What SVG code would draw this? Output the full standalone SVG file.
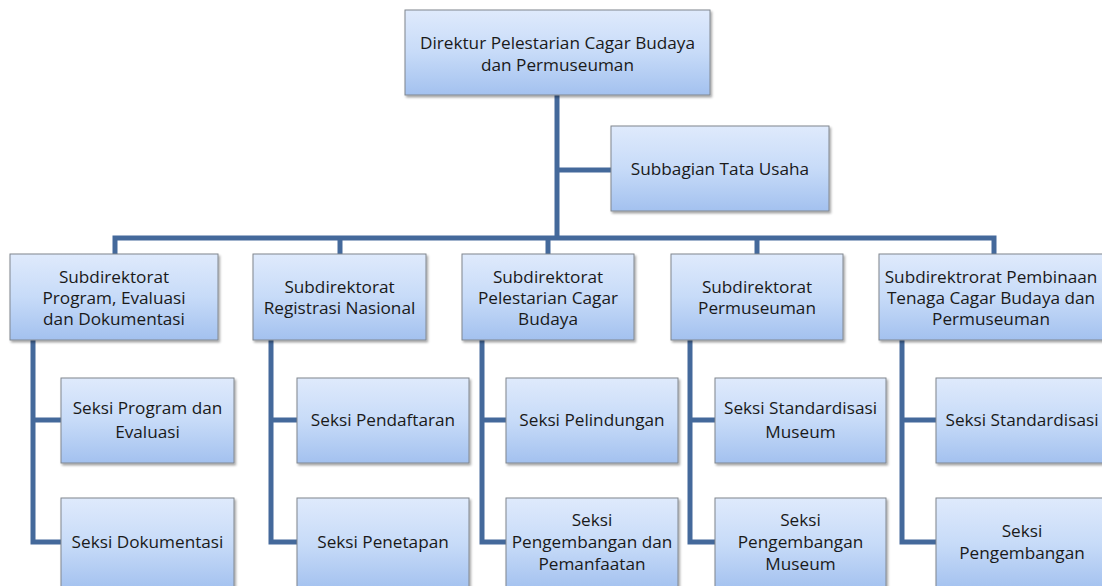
<svg xmlns="http://www.w3.org/2000/svg" width="1102" height="586" viewBox="0 0 1102 586">
<defs>
<linearGradient id="g" x1="0" y1="0" x2="0" y2="1">
<stop offset="0" stop-color="#dfeafc"/>
<stop offset="0.5" stop-color="#c7dbf8"/>
<stop offset="1" stop-color="#a3c1ef"/>
</linearGradient>
<filter id="sh" x="-10%" y="-10%" width="130%" height="140%">
<feDropShadow dx="1.5" dy="2" stdDeviation="1.2" flood-color="#000" flood-opacity="0.35"/>
</filter>
</defs>
<style>
.box{fill:url(#g);stroke:#80868e;stroke-width:1;filter:url(#sh)}
.t{font-family:"Open Sans","Noto Sans",sans-serif;font-size:17.2px;fill:#1a1a1a;text-anchor:middle}
.c{fill:none;stroke:#44699b;stroke-width:5;stroke-linejoin:miter;stroke-linecap:butt}
</style>
<rect width="1102" height="586" fill="#fff"/>
<g id="connectors">
<path class="c" d="M557,95 V238"/>
<path class="c" d="M557,170 H611"/>
<path class="c" d="M115,255 V238 H994 V255"/>
<path class="c" d="M340,238 V255"/>
<path class="c" d="M548,238 V255"/>
<path class="c" d="M757,238 V255"/>
<path class="c" d="M33,340 V542 H61 M33,420 H61"/>
<path class="c" d="M271,340 V542 H297 M271,420 H297"/>
<path class="c" d="M482,340 V542 H506 M482,420 H506"/>
<path class="c" d="M690,340 V542 H715 M690,420 H715"/>
<path class="c" d="M902,340 V542 H936 M902,420 H936"/>
</g>
<g id="direktur"><rect class="box" x="405" y="10" width="305" height="85"/>
<text class="t" x="557.5" y="49">Direktur Pelestarian Cagar Budaya</text>
<text class="t" x="557.5" y="71">dan Permuseuman</text></g>
<g id="subbagian"><rect class="box" x="611" y="126" width="218" height="85"/>
<text class="t" x="720" y="175">Subbagian Tata Usaha</text></g>
<g id="subdit1"><rect class="box" x="10" y="254" width="208" height="86"/>
<text class="t" x="114" y="283">Subdirektorat</text>
<text class="t" x="114" y="304">Program, Evaluasi</text>
<text class="t" x="114" y="325">dan Dokumentasi</text></g>
<g id="subdit2"><rect class="box" x="253" y="254" width="173" height="86"/>
<text class="t" x="339.5" y="293">Subdirektorat</text>
<text class="t" x="339.5" y="314">Registrasi Nasional</text></g>
<g id="subdit3"><rect class="box" x="462" y="254" width="172" height="86"/>
<text class="t" x="548" y="283">Subdirektorat</text>
<text class="t" x="548" y="304">Pelestarian Cagar</text>
<text class="t" x="548" y="325">Budaya</text></g>
<g id="subdit4"><rect class="box" x="671" y="254" width="172" height="86"/>
<text class="t" x="757" y="293">Subdirektorat</text>
<text class="t" x="757" y="314">Permuseuman</text></g>
<g id="subdit5"><rect class="box" x="879" y="254" width="232" height="86"/>
<text class="t" x="991" y="283">Subdirektrorat Pembinaan</text>
<text class="t" x="991" y="304">Tenaga Cagar Budaya dan</text>
<text class="t" x="991" y="325">Permuseuman</text></g>
<g id="seksi1a"><rect class="box" x="61" y="378" width="173" height="85"/>
<text class="t" x="147.5" y="414">Seksi Program dan</text>
<text class="t" x="147.5" y="438">Evaluasi</text></g>
<g id="seksi1b"><rect class="box" x="61" y="498" width="173" height="92"/>
<text class="t" x="147.5" y="548">Seksi Dokumentasi</text></g>
<g id="seksi2a"><rect class="box" x="297" y="378" width="172" height="85"/>
<text class="t" x="383" y="426">Seksi Pendaftaran</text></g>
<g id="seksi2b"><rect class="box" x="297" y="498" width="172" height="92"/>
<text class="t" x="383" y="548">Seksi Penetapan</text></g>
<g id="seksi3a"><rect class="box" x="506" y="378" width="172" height="85"/>
<text class="t" x="592" y="426">Seksi Pelindungan</text></g>
<g id="seksi3b"><rect class="box" x="506" y="498" width="172" height="92"/>
<text class="t" x="592" y="526">Seksi</text>
<text class="t" x="592" y="548">Pengembangan dan</text>
<text class="t" x="592" y="570">Pemanfaatan</text></g>
<g id="seksi4a"><rect class="box" x="715" y="378" width="171" height="85"/>
<text class="t" x="800.5" y="414">Seksi Standardisasi</text>
<text class="t" x="800.5" y="438">Museum</text></g>
<g id="seksi4b"><rect class="box" x="715" y="498" width="171" height="92"/>
<text class="t" x="800.5" y="526">Seksi</text>
<text class="t" x="800.5" y="548">Pengembangan</text>
<text class="t" x="800.5" y="570">Museum</text></g>
<g id="seksi5a"><rect class="box" x="936" y="378" width="175" height="85"/>
<text class="t" x="1022" y="426">Seksi Standardisasi</text></g>
<g id="seksi5b"><rect class="box" x="936" y="498" width="175" height="92"/>
<text class="t" x="1022" y="537">Seksi</text>
<text class="t" x="1022" y="559">Pengembangan</text></g>
</svg>
